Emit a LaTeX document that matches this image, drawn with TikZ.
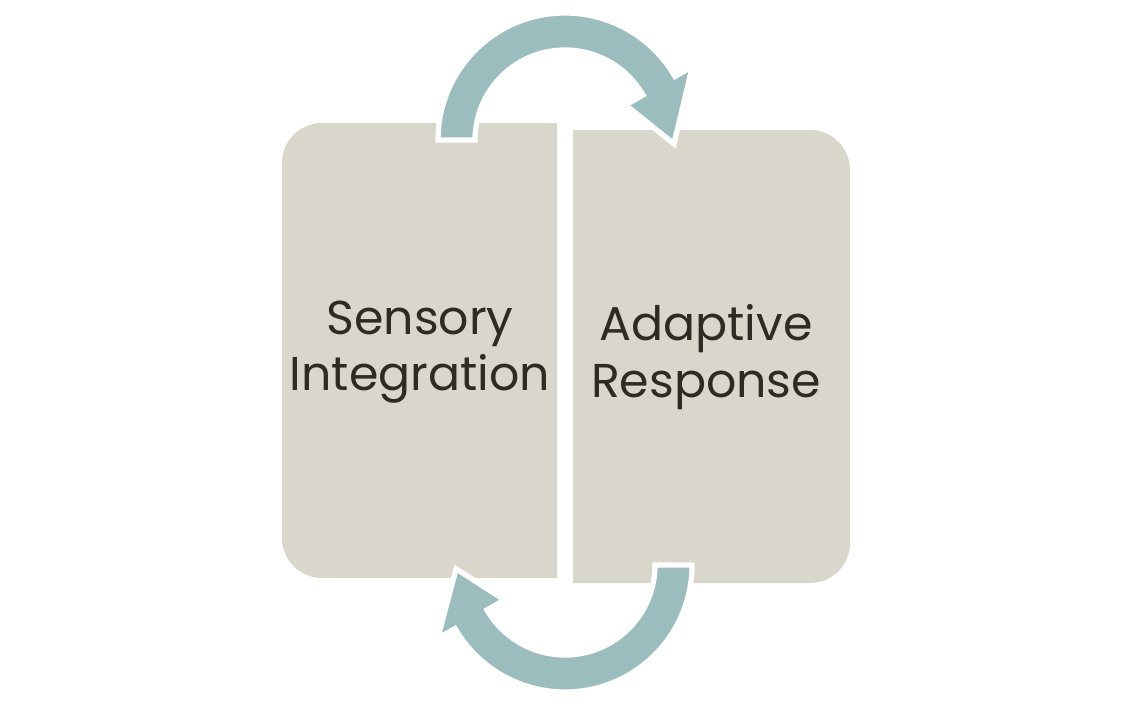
\documentclass[tikz,border=0pt]{standalone}
\usepackage{fontspec}
\setmainfont{Poppins}
\usetikzlibrary{calc}
\definecolor{boxfill}{HTML}{D9D6CB}
\definecolor{loopteal}{HTML}{9BBDBD}
\definecolor{textdark}{HTML}{2E2B22}
\tikzset{
  panel/.style={fill=boxfill},
  looparrow/.style={fill=loopteal, draw=white, line width=1.5pt},
  label/.style={align=center, text=textdark, font=\fontsize{13.5}{16}\selectfont}
}
\begin{document}
\begin{tikzpicture}
        \useasboundingbox (0,0) rectangle (11.3,7.12);
        % panels
        \fill[panel] (5.57,1.34) [rounded corners=0.4cm] -- (2.82,1.34) -- (2.82,5.89) [sharp corners] -- (5.57,5.89) -- cycle;
        \fill[panel] (5.73,5.82) [rounded corners=0.4cm] -- (8.50,5.82) -- (8.50,1.29) [sharp corners] -- (5.73,1.29) -- cycle;
        \node[label] (sensory) at (4.20,3.60) {Sensory\\Integration};
        \node[label] (adaptive) at (7.06,3.55) {Adaptive\\Response};
        % loop arrows
        \coordinate (top) at (5.65,5.72);
        \coordinate (bottom) at (5.65,1.47);
        \draw[looparrow] ($(top)+(180:1.27)$) arc (180:30:1.27) -- ($(top)+(30:1.47)$) -- ($(top)+(-2:1.09)$) -- ($(top)+(30:0.70)$) -- ($(top)+(30:0.90)$) arc (30:180:0.90) -- cycle;
        \draw[looparrow] ($(bottom)+(0:1.27)$) arc (0:-150:1.27) -- ($(bottom)+(210:1.47)$) -- ($(bottom)+(182:1.09)$) -- ($(bottom)+(210:0.70)$) -- ($(bottom)+(210:0.90)$) arc (-150:0:0.90) -- cycle;
\end{tikzpicture}
\end{document}
